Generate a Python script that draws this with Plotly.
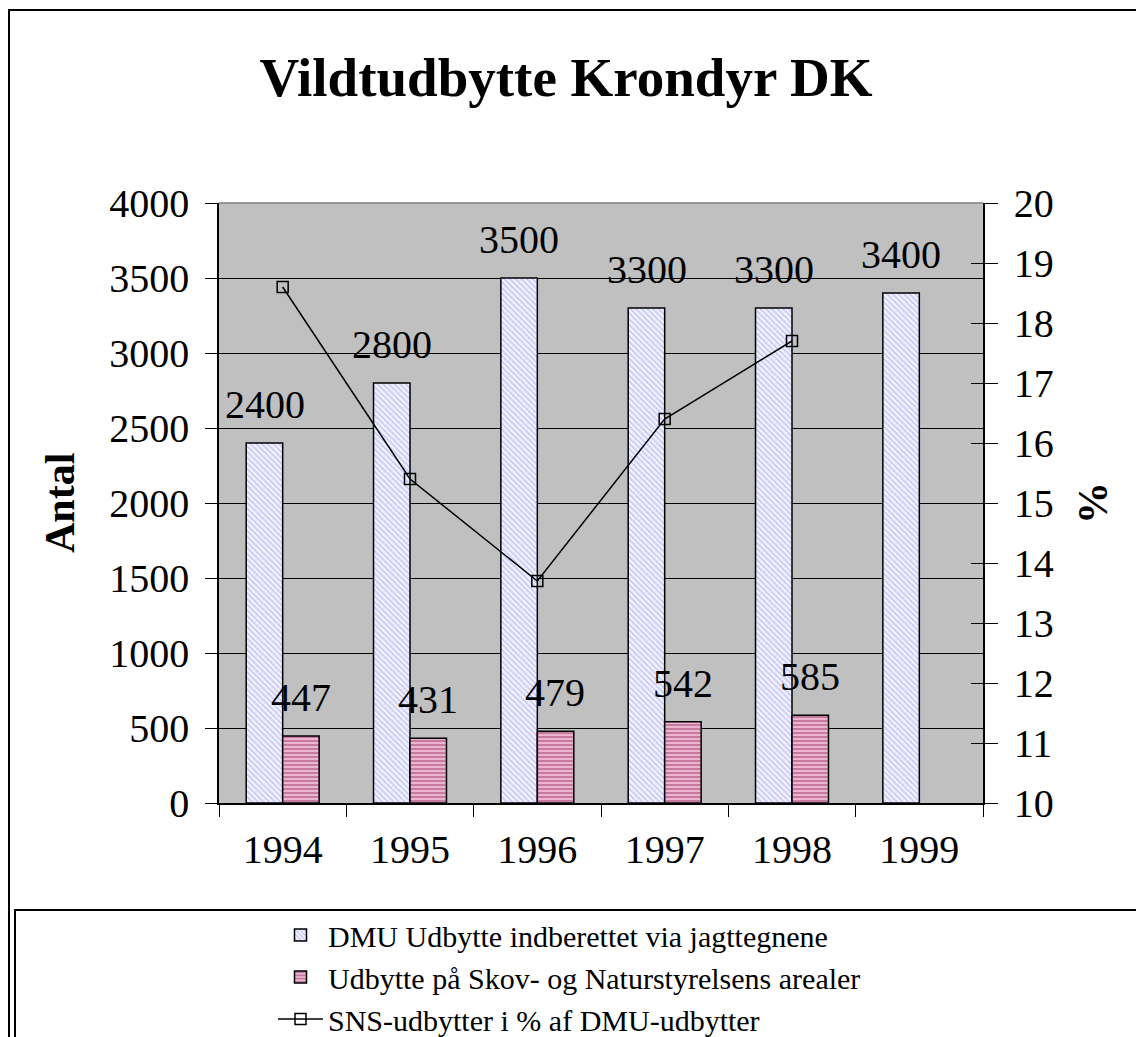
import plotly.graph_objects as go

years = ["1994", "1995", "1996", "1997", "1998", "1999"]
dmu = [2400, 2800, 3500, 3300, 3300, 3400]
sns = [447, 431, 479, 542, 585, None]
pct = [18.6, 15.4, 13.7, 16.4, 17.7, None]

name_dmu = "DMU Udbytte indberettet via jagttegnene"
name_sns = "Udbytte på Skov- og Naturstyrelsens arealer"
name_pct = "SNS-udbytter i % af DMU-udbytter"

FONT = "Liberation Serif, Times New Roman, serif"

W, H = 1136, 1037
L, R, T, B = 219, 153, 203, 234
pw, ph = W - L - R, H - T - B

def px_x(p):
    return (p - L) / pw

def px_y(p):
    return (H - B - p) / ph

fig = go.Figure()
fig.add_trace(go.Bar(
    x=years, y=dmu, name=name_dmu,
    marker=dict(color="#D0D0FA", line=dict(color="black", width=1.5),
                pattern=dict(shape="\\", fgcolor="#9C9CF5", bgcolor="#F4F4FF",
                             size=4, solidity=0.45)),
))
fig.add_trace(go.Bar(
    x=years, y=sns, name=name_sns,
    marker=dict(color="#D888B0", line=dict(color="black", width=1.5),
                pattern=dict(shape="-", fgcolor="#993366", bgcolor="#EDB4CF",
                             size=4, solidity=0.45)),
))
fig.add_trace(go.Scatter(
    x=years, y=pct, name=name_pct, yaxis="y2", mode="lines+markers",
    line=dict(color="black", width=1.5),
    marker=dict(symbol="square-open", size=11, color="black", line=dict(width=1.5)),
))
# invisible trace for the inner right-axis ticks
fig.add_trace(go.Scatter(x=years, y=pct, yaxis="y3", mode="lines",
                         line=dict(width=0), showlegend=False, hoverinfo="skip"))

annotations = []
for i, v in enumerate(dmu):
    annotations.append(dict(x=i, y=v, xref="x", yref="y", text=str(v), showarrow=False,
                            xshift=-18, yshift=14, yanchor="bottom",
                            font=dict(family=FONT, size=40, color="black")))
for i, v in enumerate(sns):
    if v is None:
        continue
    annotations.append(dict(x=i, y=v, xref="x", yref="y", text=str(v), showarrow=False,
                            xshift=18, yshift=14, yanchor="bottom",
                            font=dict(family=FONT, size=40, color="black")))
annotations.append(dict(x=px_x(60), y=0.5, xref="paper", yref="paper", text="<b>Antal</b>",
                        textangle=-90, showarrow=False, xanchor="center", yanchor="middle",
                        font=dict(family=FONT, size=42, color="black")))
annotations.append(dict(x=px_x(1093), y=0.5, xref="paper", yref="paper", text="<b>%</b>",
                        textangle=-90, showarrow=False, xanchor="center", yanchor="middle",
                        font=dict(family=FONT, size=42, color="black")))

shapes = [
    # outer chart border
    dict(type="rect", xref="paper", yref="paper", x0=px_x(9), x1=px_x(1145),
         y0=px_y(1050), y1=px_y(10), line=dict(color="black", width=2), layer="below"),
    # legend box
    dict(type="rect", xref="paper", yref="paper", x0=px_x(15), x1=px_x(1145),
         y0=px_y(1050), y1=px_y(910), line=dict(color="black", width=2), layer="below"),
    # top edge of plot area
    dict(type="line", xref="paper", yref="paper", x0=0, x1=1, y0=1, y1=1,
         line=dict(color="#808080", width=1.5)),
]

fig.update_layout(
    width=W, height=H, autosize=False,
    margin=dict(l=L, r=R, t=T, b=B, pad=0, autoexpand=False),
    paper_bgcolor="white", plot_bgcolor="#C0C0C0",
    barmode="group", bargap=0.427, bargroupgap=0,
    font=dict(family=FONT, color="black"),
    title=dict(text="<b>Vildtudbytte Krondyr DK</b>", x=566 / W, xanchor="center",
               y=1 - 77 / H, yanchor="middle",
               font=dict(family=FONT, size=55, color="black")),
    xaxis=dict(type="category", range=[-0.5, len(years) - 0.5], showgrid=False,
               showline=True, linecolor="black", linewidth=1.5,
               ticks="outside", tickson="boundaries", ticklen=12, tickcolor="black",
               tickwidth=1, tickfont=dict(family=FONT, size=40), ticklabelstandoff=10,
               tickangle=0),
    yaxis=dict(range=[0, 4000], dtick=500, showgrid=True, gridcolor="black", gridwidth=1,
               showline=True, linecolor="black", linewidth=1.5, ticks="outside", ticklen=12,
               tickcolor="black", tickfont=dict(family=FONT, size=40), zeroline=False,
               ticklabelstandoff=8),
    yaxis2=dict(range=[10, 20], dtick=1, overlaying="y", side="right", showgrid=False,
                showline=True, linecolor="black", linewidth=1.5, ticks="outside", ticklen=13,
                tickcolor="black", tickfont=dict(family=FONT, size=40), zeroline=False,
                ticklabelstandoff=8),
    yaxis3=dict(range=[10, 20], dtick=1, overlaying="y", side="right", showgrid=False,
                showline=False, ticks="inside", ticklen=12, tickcolor="black",
                showticklabels=False, zeroline=False),
    showlegend=True,
    legend=dict(xref="container", yref="container", x=273 / W, xanchor="left",
                y=1 - 909 / H, yanchor="top",
                font=dict(family=FONT, size=30, color="black"), bgcolor="rgba(0,0,0,0)",
                borderwidth=0, tracegroupgap=0, itemwidth=45, traceorder="normal"),
    annotations=annotations,
    shapes=shapes,
)

fig.write_html("out.html", config={"displayModeBar": False},
               post_script="document.body.style.margin='0';document.body.style.overflow='hidden';")
